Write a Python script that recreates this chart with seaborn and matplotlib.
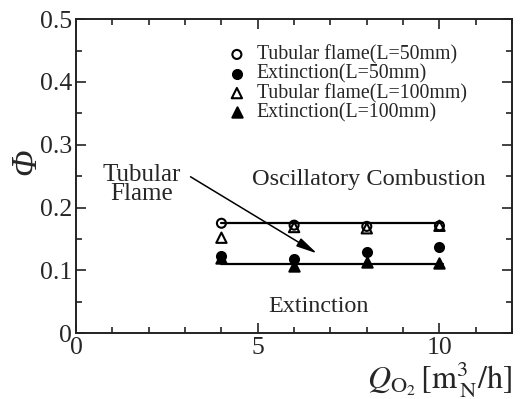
import matplotlib
matplotlib.use("Agg")
import matplotlib.pyplot as plt
from matplotlib.ticker import MultipleLocator
import seaborn as sns
import pandas as pd

# Oxygen flow rate and equivalence ratio at each regime boundary
q_o2 = [4, 6, 8, 10]
phi_tubular_50 = [0.175, 0.172, 0.170, 0.171]
phi_extinct_50 = [0.123, 0.118, 0.129, 0.137]
phi_tubular_100 = [0.152, 0.169, 0.167, 0.171]
phi_extinct_100 = [0.119, 0.107, 0.114, 0.112]

# Fitted boundary lines
boundary_x = [4, 10.1]
upper_boundary = [0.175, 0.175]
lower_boundary = [0.110, 0.110]

labels = ["Tubular flame(L=50mm)", "Extinction(L=50mm)",
          "Tubular flame(L=100mm)", "Extinction(L=100mm)"]

sns.set_style("ticks")
plt.rcParams["font.family"] = ["Liberation Serif", "DejaVu Serif"]
plt.rcParams["mathtext.fontset"] = "stix"

fig = plt.figure(figsize=(5.21, 3.99), dpi=100)
ax = fig.add_axes([0.146, 0.165, 0.837, 0.787])

lines_df = pd.DataFrame({"x": boundary_x * 2,
                         "y": upper_boundary + lower_boundary,
                         "b": ["upper"] * 2 + ["lower"] * 2})
sns.lineplot(data=lines_df, x="x", y="y", units="b", estimator=None,
             color="black", lw=1.6, ax=ax, legend=False)

series = [
    (phi_tubular_50, "o", "none", 42),
    (phi_extinct_50, "o", "black", 42),
    (phi_tubular_100, "^", "none", 55),
    (phi_extinct_100, "^", "black", 55),
]
for (vals, m, fc, s), lab in zip(series, labels):
    sns.scatterplot(x=q_o2, y=vals, marker=m, s=s, facecolor=fc,
                    edgecolor="black", linewidth=1.5, ax=ax, label=lab,
                    zorder=3)

ax.set_xlim(0, 12)
ax.set_ylim(0, 0.5)
ax.xaxis.set_minor_locator(MultipleLocator(1))
ax.yaxis.set_minor_locator(MultipleLocator(0.05))
ax.set_xticks([0, 5, 10])
ax.set_xticklabels(["0", "5", "10"])
ax.set_yticks([0, 0.1, 0.2, 0.3, 0.4, 0.5])
ax.set_yticklabels(["0", "0.1", "0.2", "0.3", "0.4", "0.5"])

for s in ax.spines.values():
    s.set_linewidth(1.4)
    s.set_color("#222222")
ax.tick_params(which="both", direction="in", top=True, right=True,
               width=1.2, color="#222222", labelsize=18.5, pad=3)
ax.tick_params(which="major", length=7)
ax.tick_params(which="minor", length=4.5)

ax.set_xlabel(r"$Q_{\mathrm{O_2}}\,[\mathrm{m^3_{\,N}/h}]$", fontsize=23,
              loc="right", labelpad=0)
ax.set_ylabel("Φ", fontsize=25, fontstyle="italic", labelpad=4)
ax.yaxis.set_label_coords(-0.075, 0.545)

ax.text(1.8, 0.237, "Tubular\nFlame", fontsize=18, ha="center",
        va="center", linespacing=0.85)
ax.annotate("", xy=(6.63, 0.127), xytext=(3.15, 0.249),
            arrowprops=dict(arrowstyle="-|>,head_length=0.9,head_width=0.2",
                            color="black", lw=1.1, mutation_scale=14,
                            shrinkA=0, shrinkB=0))
ax.text(8.05, 0.244, "Oscillatory Combustion", fontsize=17.6, ha="center",
        va="center")
ax.text(6.66, 0.043, "Extinction", fontsize=17.4, ha="center", va="center")

ax.legend(loc="upper left", bbox_to_anchor=(0.346, 0.917), frameon=False,
          fontsize=14.3, labelspacing=0.0, handlelength=1.0,
          handletextpad=0.5, borderpad=0, borderaxespad=0)

fig.savefig("out.png", dpi=100)
